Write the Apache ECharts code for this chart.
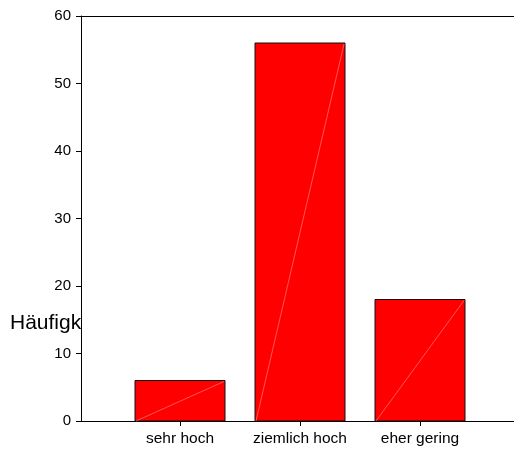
<!DOCTYPE html>
<html>
<head>
<meta charset="utf-8">
<script src="https://cdn.jsdelivr.net/npm/echarts@6/dist/echarts.min.js"></script>
<style>
  html, body { margin: 0; padding: 0; background: #fff; }
  #chart { width: 514px; height: 451px; }
</style>
</head>
<body>
<div id="chart"></div>
<script>
// Frequency per answer category
const categories = ['sehr hoch', 'ziemlich hoch', 'eher gering'];
const counts = [6, 56, 18];
const yTicks = { min: 0, max: 60, interval: 10 };
const yTitle = 'Häufigkeit';

const FONT = '"Liberation Sans", Arial, sans-serif';

const chart = echarts.init(document.getElementById('chart'), null, { renderer: 'canvas' });

// Bar with a thin light diagonal from its bottom-left to top-right corner
function renderBar(params, api) {
  const idx = api.value(0);
  const top = api.coord([idx, api.value(1)]);
  const base = api.coord([idx, 0]);
  const w = api.size([1, 0])[0] * 0.75;
  const x0 = top[0] - w / 2;
  const x1 = top[0] + w / 2;
  return {
    type: 'group',
    children: [
      {
        type: 'rect',
        shape: { x: x0, y: top[1], width: w, height: base[1] - top[1] },
        style: { fill: '#ff0000', stroke: '#111', lineWidth: 1 }
      },
      {
        type: 'line',
        shape: { x1: x0 + 1, y1: base[1], x2: x1 - 1, y2: top[1] + 1 },
        style: { stroke: 'rgba(255,170,170,0.85)', lineWidth: 0.6 }
      }
    ]
  };
}

chart.setOption({
  animation: false,
  backgroundColor: '#fff',
  title: {
    text: yTitle,
    left: 10,
    top: 313,
    padding: 0,
    z: 0,
    textStyle: { fontFamily: FONT, fontSize: 21, fontWeight: 'normal', color: '#000' }
  },
  grid: [
    // outer frame: y axis, bottom and top rules
    { left: 81, right: 0, top: 16, bottom: 30, show: true, backgroundColor: '#fff', borderWidth: 0, z: 1 },
    // bar area
    { left: 120, right: 34, top: 16, bottom: 30, z: 1 }
  ],
  xAxis: [
    {
      gridIndex: 0, type: 'value', min: 0, max: 1, position: 'bottom', z: 3,
      axisLine: { show: true, lineStyle: { color: '#000', width: 1 } },
      axisTick: { show: false }, axisLabel: { show: false }, splitLine: { show: false }
    },
    {
      gridIndex: 0, type: 'value', min: 0, max: 1, position: 'top', z: 3,
      axisLine: { show: true, lineStyle: { color: '#000', width: 1 } },
      axisTick: { show: false }, axisLabel: { show: false }, splitLine: { show: false }
    },
    {
      gridIndex: 1, type: 'category', data: categories, z: 3,
      axisLine: { show: false },
      axisTick: { show: true, alignWithLabel: true, interval: 0, length: 5, lineStyle: { color: '#000' } },
      axisLabel: { fontFamily: FONT, fontSize: 15.5, color: '#000', margin: 10, interval: 0, hideOverlap: false },
      splitLine: { show: false }
    }
  ],
  yAxis: [
    {
      gridIndex: 0, type: 'value', min: yTicks.min, max: yTicks.max, interval: yTicks.interval, z: 3,
      axisLine: { show: true, lineStyle: { color: '#000', width: 1 } },
      axisTick: { show: true, length: 5, lineStyle: { color: '#000' } },
      axisLabel: { fontFamily: FONT, fontSize: 15, color: '#000', margin: 10 },
      splitLine: { show: false }
    },
    {
      gridIndex: 1, type: 'value', min: yTicks.min, max: yTicks.max, interval: yTicks.interval,
      show: false, splitLine: { show: false }
    }
  ],
  series: [
    {
      type: 'custom',
      xAxisIndex: 2,
      yAxisIndex: 1,
      z: 4,
      renderItem: renderBar,
      data: counts.map((v, i) => [i, v]),
      encode: { x: 0, y: 1 }
    }
  ]
});
</script>
</body>
</html>
